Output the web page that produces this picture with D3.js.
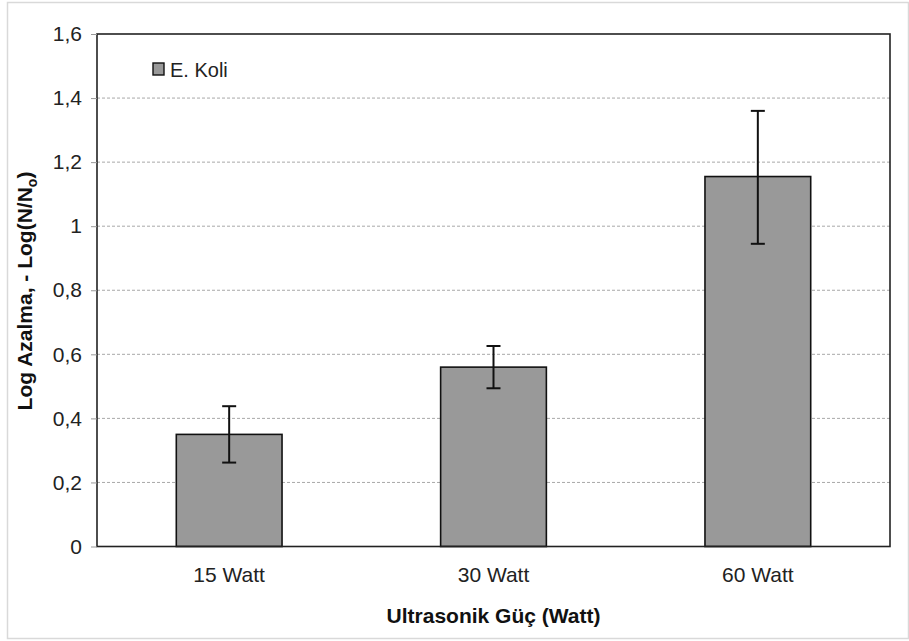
<!DOCTYPE html>
<html>
<head>
<meta charset="utf-8">
<script src="https://cdn.jsdelivr.net/npm/d3@7"></script>
<style>
  html, body { margin: 0; padding: 0; background: #ffffff; }
  svg { display: block; font-family: "Liberation Sans", Arial, sans-serif; }
</style>
</head>
<body>
<svg id="chart" width="909" height="641"></svg>
<script>
// Ultrasonic power levels and log reduction of E. coli
const categories = ["15 Watt", "30 Watt", "60 Watt"];
const logReduction = [0.35, 0.56, 1.155];
const errorUpper = [0.088, 0.066, 0.205];
const errorLower = [0.088, 0.066, 0.21];
const yTicks = [0, 0.2, 0.4, 0.6, 0.8, 1, 1.2, 1.4, 1.6];
const seriesName = "E. Koli";

const svg = d3.select("#chart");
const plot = { left: 97, top: 34, right: 890, bottom: 546.5 };

const barFill = "#999999";
const ink = "#111111";
const labelSize = 21;

// outer chart frame
svg.append("rect")
  .attr("x", 7.5).attr("y", 2.5)
  .attr("width", 901).attr("height", 636)
  .attr("fill", "#ffffff")
  .attr("stroke", "#d9d9d9")
  .attr("stroke-width", 1.5);

const x = d3.scaleBand()
  .domain(categories)
  .range([plot.left, plot.right])
  .paddingInner(0.6)
  .paddingOuter(0.3);

const y = d3.scaleLinear()
  .domain([0, 1.6])
  .range([plot.bottom, plot.top]);

const fmt = v => d3.format("~g")(v).replace(".", ",");

// dashed horizontal gridlines
svg.append("g")
  .selectAll("line")
  .data(yTicks.filter(t => t > 0 && t < 1.6))
  .join("line")
  .attr("x1", plot.left).attr("x2", plot.right)
  .attr("y1", d => y(d)).attr("y2", d => y(d))
  .attr("stroke", "#a8a8a8")
  .attr("stroke-width", 1)
  .attr("stroke-dasharray", "3,2");

// bars
svg.append("g")
  .selectAll("rect")
  .data(categories)
  .join("rect")
  .attr("x", d => x(d))
  .attr("y", (d, i) => y(logReduction[i]))
  .attr("width", x.bandwidth())
  .attr("height", (d, i) => y(0) - y(logReduction[i]))
  .attr("fill", barFill)
  .attr("stroke", ink)
  .attr("stroke-width", 1.6);

// error bars
const capHalf = 7;
const eg = svg.append("g").attr("stroke", ink).attr("stroke-width", 2);
categories.forEach((c, i) => {
  const cx = x(c) + x.bandwidth() / 2;
  const yHi = y(logReduction[i] + errorUpper[i]);
  const yLo = y(logReduction[i] - errorLower[i]);
  eg.append("line").attr("x1", cx).attr("x2", cx).attr("y1", yHi).attr("y2", yLo);
  eg.append("line").attr("x1", cx - capHalf).attr("x2", cx + capHalf).attr("y1", yHi).attr("y2", yHi);
  eg.append("line").attr("x1", cx - capHalf).attr("x2", cx + capHalf).attr("y1", yLo).attr("y2", yLo);
});

// plot border
svg.append("rect")
  .attr("x", plot.left).attr("y", plot.top)
  .attr("width", plot.right - plot.left)
  .attr("height", plot.bottom - plot.top)
  .attr("fill", "none")
  .attr("stroke", "#222222")
  .attr("stroke-width", 1.6);

// y axis
const yAxis = d3.axisLeft(y)
  .tickValues(yTicks)
  .tickFormat(fmt)
  .tickSize(6)
  .tickPadding(9);
const yg = svg.append("g")
  .attr("transform", `translate(${plot.left},0)`)
  .call(yAxis);
yg.select(".domain").remove();
yg.selectAll(".tick line").attr("stroke", "#999999");
yg.selectAll(".tick text")
  .attr("font-size", labelSize)
  .attr("fill", "#222222")
  .attr("font-family", "Liberation Sans, Arial, sans-serif");

// x axis
const xAxis = d3.axisBottom(x).tickSize(0).tickPadding(21);
const xg = svg.append("g")
  .attr("transform", `translate(0,${plot.bottom})`)
  .call(xAxis);
xg.select(".domain").remove();
xg.selectAll(".tick text")
  .attr("font-size", labelSize)
  .attr("fill", "#222222")
  .attr("font-family", "Liberation Sans, Arial, sans-serif");

// axis titles
svg.append("text")
  .attr("x", (plot.left + plot.right) / 2)
  .attr("y", 623)
  .attr("text-anchor", "middle")
  .attr("font-size", 21)
  .attr("font-weight", "bold")
  .attr("fill", "#111111")
  .text("Ultrasonik Güç (Watt)");

const yt = svg.append("text")
  .attr("transform", "translate(32,291) rotate(-90)")
  .attr("text-anchor", "middle")
  .attr("font-size", 21)
  .attr("font-weight", "bold")
  .attr("fill", "#111111");
yt.append("tspan").text("Log Azalma, - Log(N/N");
yt.append("tspan").attr("font-size", 14).attr("dy", 5).text("o");
yt.append("tspan").attr("dy", -5).text(")");

// legend
const lg = svg.append("g").attr("transform", "translate(153,63)");
lg.append("rect")
  .attr("x", 0).attr("y", 0).attr("width", 11).attr("height", 12)
  .attr("fill", barFill).attr("stroke", ink).attr("stroke-width", 1.4);
lg.append("text")
  .attr("x", 17).attr("y", 13.5)
  .attr("font-size", 20)
  .attr("fill", "#222222")
  .text(seriesName);
</script>
</body>
</html>
